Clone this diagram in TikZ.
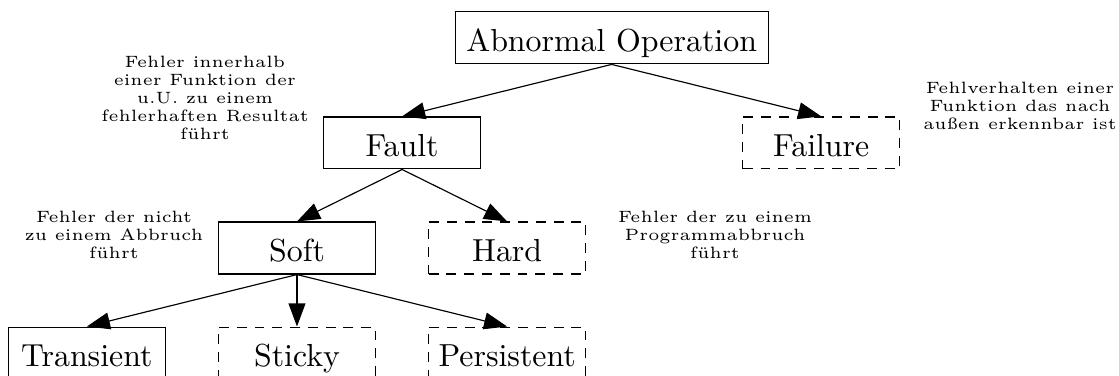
\documentclass[tikz,border=0pt]{standalone}
\usepackage{graphicx}
\usepackage{tikz}
\usetikzlibrary{positioning,arrows.meta}
\tikzset{
  fbox/.style ={rectangle, draw=black, line width=0.5pt, minimum width=68pt,
                minimum height=22.5pt, inner sep=2pt, text height=11.8pt,
                text depth=0pt, font=\fontsize{10}{12}\selectfont},
  fboxd/.style={fbox, dash pattern=on 4.3pt off 3.4pt},
  note/.style ={align=center, inner sep=0pt, scale=1.42,
                font=\fontsize{5}{5.5}\selectfont},
  arr/.style  ={line width=0.5pt, -{Triangle[length=10pt, width=7.3pt]}},
}
\newcommand{\btxt}[1]{\scalebox{1.38}{#1}}

\begin{document}
\begin{tikzpicture}[x=0.433pt, y=-0.433pt, node distance=22.5pt]
  \useasboundingbox (0,0) rectangle (1119,376);
  % error classes
  \node[fbox] (soft) at (297,248) {\btxt{Soft}};
  \node[fboxd, right=of soft] (hard) {\btxt{Hard}};
  \node[fboxd, below=of soft] (sticky) {\btxt{Sticky}};
  \node[fboxd, below=of hard] (persist) {\btxt{Persistent}};
  \node[fbox, left=of sticky] (trans) {\btxt{Transient}};
  \path (soft.north) -- (hard.north) coordinate[midway] (fs);
  \node[fbox, above=of fs] (fault) {\btxt{Fault}};
  \node[fboxd, right=113pt of fault] (failure) {\btxt{Failure}};
  \path (fault.north) -- (failure.north) coordinate[midway] (ff);
  \node[fbox, minimum width=135.5pt, above=of ff] (abn) {\btxt{Abnormal Operation}};
  % explanations
  \node[note] (nfault) at (205,98) {Fehler innerhalb\\einer Funktion der\\u.U. zu einem\\fehlerhaften Resultat\\führt};
  \node[note] (nfail) at (1020,106) {Fehlverhalten einer\\Funktion das nach\\außen erkennbar ist};
  \node[note] (nsoft) at (114,235) {Fehler der nicht\\zu einem Abbruch\\führt};
  \node[note] (nhard) at (715,235) {Fehler der zu einem\\Programmabbruch\\führt};
  % edges
  \draw[arr] (abn.south) -- (fault.north);
  \draw[arr] (abn.south) -- (failure.north);
  \draw[arr] (fault.south) -- (soft.north);
  \draw[arr] (fault.south) -- (hard.north);
  \draw[arr] (soft.south) -- (trans.north);
  \draw[arr] (soft.south) -- (sticky.north);
  \draw[arr] (soft.south) -- (persist.north);
\end{tikzpicture}
\end{document}
